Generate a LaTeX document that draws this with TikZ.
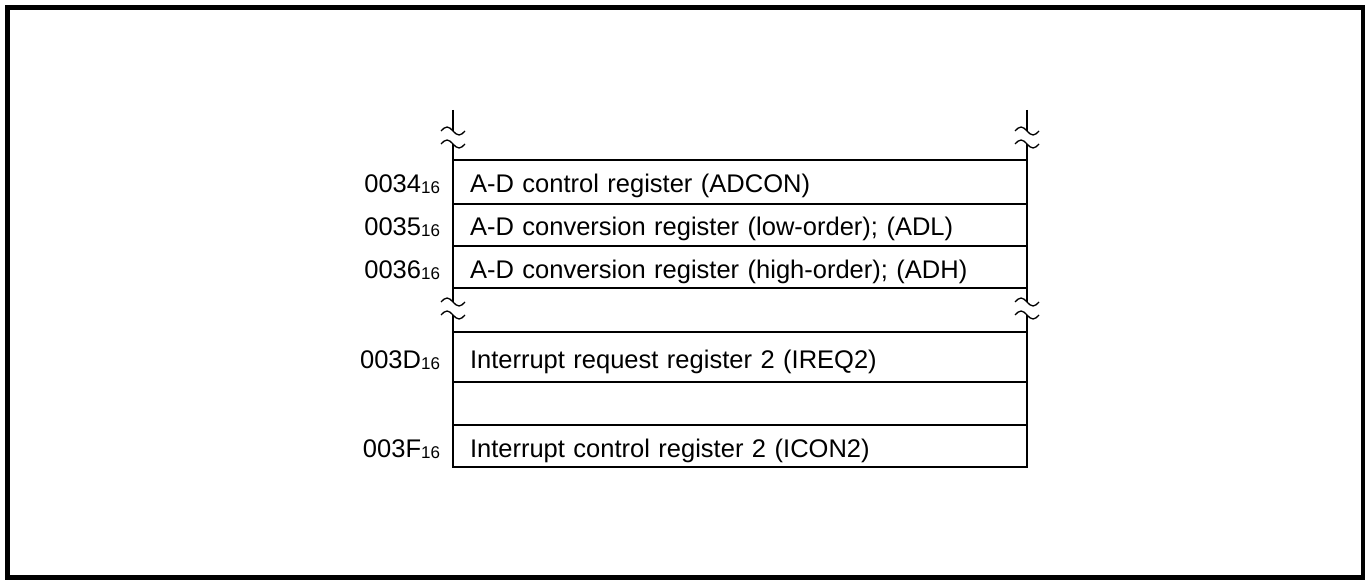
\documentclass[tikz,border=0pt]{standalone}
\usepackage{fontspec}
\setmainfont{Liberation Sans}
\usetikzlibrary{positioning}
\newcommand{\hexsub}[1]{\raisebox{-1pt}{\fontsize{17}{20}\selectfont #1}}

\begin{document}
\begin{tikzpicture}[x=1pt, y=-1pt,
  txt/.style={font=\fontsize{25.5}{30}\selectfont, text height=24pt, text depth=2pt},
  reg/.style={txt, draw, line width=1.6pt, outer sep=0pt, minimum width=574pt, inner xsep=17pt, inner ysep=0pt, text width=540pt, align=left},
  addr/.style={txt, inner sep=0pt, outer sep=0pt},
  brk/.style={line width=1.3pt}
]
\useasboundingbox (0,0) rectangle (1370,580);
\draw[line width=4.5pt] (7.5,7.5) rectangle (1363,577.5);

% register rows
\node[reg, anchor=north west, minimum height=44pt] (adcon) at (453,160) {A-D control register (ADCON)};
\node[reg, below=0pt of adcon, minimum height=42pt] (adl) {A-D conversion register (low-order); (ADL)};
\node[reg, below=0pt of adl, minimum height=42pt] (adh) {A-D conversion register (high-order); (ADH)};
\node[reg, anchor=north west, minimum height=50pt] (ireq) at (453,332) {Interrupt request register 2 (IREQ2)};
\node[reg, below=0pt of ireq, minimum height=43pt] (empty) {};
\node[reg, below=0pt of empty, minimum height=42pt] (icon) {Interrupt control register 2 (ICON2)};

% addresses
\node[addr, left=13pt of adcon] (a34) {0034\hexsub{16}};
\node[addr, left=13pt of adl] (a35) {0035\hexsub{16}};
\node[addr, left=13pt of adh] (a36) {0036\hexsub{16}};
\node[addr, left=13pt of ireq] (a3d) {003D\hexsub{16}};
\node[addr, left=13pt of icon] (a3f) {003F\hexsub{16}};

% break marks
\foreach \x in {453,1027}{
  \draw[brk] (\x,110) -- (\x,131);
  \draw[brk] (\x-12,131) sin ++(6,-4) cos ++(6,4) sin ++(6,4) cos ++(6,-4);
  \draw[brk] (\x-12,144) sin ++(6,-4) cos ++(6,4) sin ++(6,4) cos ++(6,-4);
  \draw[brk] (\x,144) -- (\x,160);
  \draw[brk] (\x,288) -- (\x,302);
  \draw[brk] (\x-12,302) sin ++(6,-4) cos ++(6,4) sin ++(6,4) cos ++(6,-4);
  \draw[brk] (\x-12,315) sin ++(6,-4) cos ++(6,4) sin ++(6,4) cos ++(6,-4);
  \draw[brk] (\x,315) -- (\x,332);
}
\end{tikzpicture}
\end{document}
